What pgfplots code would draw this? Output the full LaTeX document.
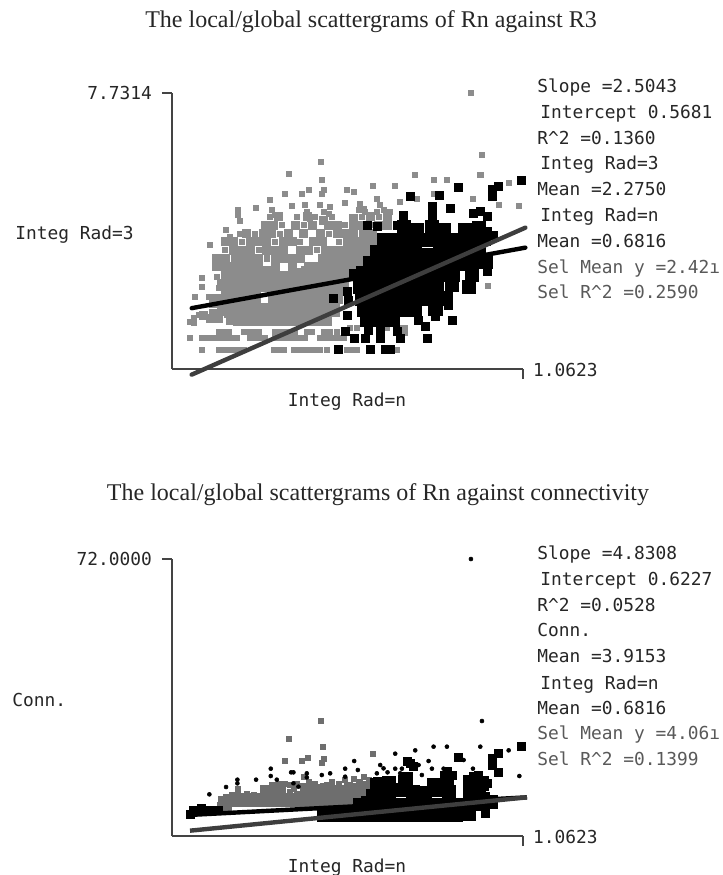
\documentclass[border=0pt]{standalone}
\usepackage{fontspec}
\setmainfont{Liberation Serif}
\newfontfamily\scr{DejaVu Sans Mono}
\usepackage{pgfplots}
\pgfplotsset{compat=1.18}
\definecolor{graya}{HTML}{8C8C8C}
\definecolor{grayb}{HTML}{6E6E6E}
\definecolor{lineg}{HTML}{3E3E3E}
\definecolor{axisg}{HTML}{444444}
\newcommand{\st}{\scr\fontsize{13.4}{14}\selectfont}
\pgfplotsset{panel/.style={
  scale only axis, width=263.25pt, clip=false, y dir=reverse,
  xmin=66, xmax=1118,
  axis x line=bottom, axis y line=left,
  axis line style={-,color=axisg,line width=1.1pt},
  xtick={1118}, tick align=outside,
  x tick style={color=axisg,line width=1.1pt},
  y tick style={color=axisg,line width=1.1pt},
  major tick length=7.5pt,
  tick label style={font=\st,/pgf/number format/assume math mode=true},
  x tick label style={anchor=west,xshift=4pt,yshift=7pt,text=black!85},
  y tick label style={anchor=east,xshift=-4pt,text=black!85},
  small/.style={only marks,mark=square*,mark size=1.9pt,mark options={draw=none}},
  mid/.style={only marks,mark=square*,mark size=3pt,mark options={draw=none}},
  big/.style={only marks,mark=square*,mark size=5pt,mark options={draw=none}},
  dot/.style={only marks,mark=*,mark size=1.5pt,mark options={draw=none}},
}}
\begin{document}
\begin{tikzpicture}
\path[use as bounding box] (0,0) rectangle (542.25pt,-656.25pt);
\begin{axis}[panel, at={(129pt,-276.75pt)}, anchor=south west, height=207pt,
  ymin=68, ymax=898, ytick={68}, yticklabels={7.7314}, xticklabels={1.0623}]
% unselected, dense interior
\addplot[big,color=graya] coordinates {
(330,610)(366,610)(402,625)(438,615)(474,610)(510,610)(546,610)(582,600)(620,580)(640,550)
(250,645)(286,645)(322,645)(358,645)(394,645)(430,650)(466,645)(502,645)(538,645)(574,640)
(240,680)(276,685)(312,680)(375,680)(411,680)(447,680)(483,680)(519,680)(555,680)
(260,720)(296,720)(332,720)(368,720)(404,720)(440,720)(476,720)(512,720)(548,720)
(270,745)(306,745)(342,745)(378,745)(414,745)(450,745)(486,745)(522,745)
};
\addplot[mid,color=graya] coordinates {
(385,440)(470,440)(520,450)(610,445)(660,440)(710,440)
(345,465)(370,465)(435,465)(485,465)(535,465)(560,465)(610,465)(635,465)(685,465)(710,465)
(290,490)(340,490)(365,490)(415,490)(460,490)(510,490)(560,490)(585,490)(610,490)(640,490)(665,490)
(225,515)(250,515)(300,515)(325,515)(350,515)(400,515)(425,515)(490,515)(515,515)(590,515)(615,515)(640,515)(665,515)
(250,540)(275,540)(300,540)(350,540)(375,540)(400,540)(450,540)(475,540)(525,540)(550,540)(575,540)(600,540)(625,540)(650,540)
(200,565)(225,565)(275,565)(300,565)(325,565)(375,565)(400,565)(425,565)(450,565)(515,565)(540,565)(565,565)(590,565)(615,565)(640,565)
(200,590)(225,590)(250,590)(275,590)(300,590)(325,590)(375,590)(425,590)(475,590)(500,590)(525,590)(550,590)(575,590)(600,590)
(225,615)(250,615)(275,615)(300,615)(215,640)(225,665)(215,700)(240,705)
(190,700)(190,730)(215,725)(235,730)(160,735)(180,745)(205,745)(240,750)
};
% unselected, speckled points
\addplot[small,color=graya] coordinates {
(962,66)(995,254)(990,315)(795,315)(850,330)(890,330)(1075,337)(1105,408)(1045,403)(968,385)(1013,647)
(513,275)(515,330)(417,310)(405,370)(455,370)(475,358)(520,358)(515,372)(590,358)(612,365)(668,347)(735,347)
(358,388)(318,412)(262,420)(262,435)(270,452)(228,480)(178,523)(155,625)(155,650)(135,680)
(585,398)(630,400)(640,415)(680,385)(690,405)(700,420)(750,395)(800,385)(850,370)
(425,408)(465,405)(510,405)(540,410)(365,420)(375,435)(470,425)(480,445)(535,430)(520,425)
(625,420)(645,425)(680,425)(720,425)(270,490)(240,500)(360,440)(440,440)(495,440)(545,440)(635,440)(685,440)
(395,465)(460,465)(585,465)(660,465)(315,490)(390,490)(535,490)(275,515)(375,515)(450,515)(565,515)(225,540)(325,540)(500,540)(250,565)(350,565)
(200,620)(205,655)(175,680)(190,680)(210,680)
(120,755)(130,745)(145,735)(130,760)
(205,785)(220,785)(235,785)(280,785)(295,785)(310,785)(325,785)(375,785)(390,785)(405,785)(420,785)(435,785)(470,785)(485,785)(520,785)(540,785)(560,785)(600,775)(620,775)(650,775)(710,775)(745,775)(765,775)(765,790)
(118,805)(155,805)(170,805)(185,805)(200,805)(215,805)(230,805)(245,805)(260,805)(300,805)(315,805)(330,805)(345,805)(375,805)(390,805)(405,805)(420,805)(435,805)(450,805)(465,805)(510,805)(525,805)(540,805)(555,805)(570,805)(580,805)
(155,840)(205,840)(220,840)(235,840)(250,840)(265,840)(280,840)(370,840)(385,840)(400,840)(430,840)(445,840)(460,840)(480,840)(495,840)(510,840)(530,840)(590,840)(605,840)(620,840)(740,840)
};
% selected, dense interior
\addplot[big,color=black] coordinates {
(760,470)(800,480)(845,470)(880,480)(945,480)(985,475)
(700,510)(738,510)(776,510)(814,510)(852,510)(890,510)(928,510)(966,510)(1000,505)
(680,545)(718,545)(756,545)(794,545)(832,555)(870,545)(908,545)(946,540)(984,550)
(660,580)(698,580)(736,580)(774,580)(812,580)(850,580)(888,580)(926,580)(964,580)(1005,575)
(640,615)(678,615)(716,615)(754,615)(792,615)(830,615)(868,615)(906,615)(965,615)
(630,650)(668,650)(706,650)(744,650)(782,650)(820,650)(858,650)(905,645)(955,650)
(635,685)(673,685)(711,685)(749,685)(787,685)(825,685)(870,685)
(640,720)(678,720)(716,720)(754,720)(792,720)(855,715)
(650,750)(688,750)(726,750)
};
% selected, outer points
\addplot[mid,color=black] coordinates {
(1113,330)(925,350)(1045,347)(1025,358)(1025,380)(780,378)(868,375)
(845,410)(845,432)(900,415)(970,430)(990,425)(1012,440)(845,455)(760,435)(650,467)(680,470)(740,465)
(1010,485)(1030,495)(1005,575)(1010,605)(1015,570)
(550,685)(590,665)(610,610)(630,600)(590,735)(595,690)
(612,805)(645,805)(690,805)(740,785)(750,805)(830,805)(585,785)(565,840)(660,840)(705,840)(720,840)
(690,785)(655,780)(805,750)(825,770)(905,750)(855,740)(895,705)(895,680)
};
\end{axis}
\begin{axis}[panel, hide axis, at={(129pt,-276.75pt)}, anchor=south west, height=207pt, ymin=68, ymax=898]
\addplot[black,line width=3.3pt,line cap=round] coordinates {(125,715)(1125,533)};
\addplot[lineg,line width=3.3pt,line cap=round] coordinates {(125,915)(1125,473)};
\end{axis}

\begin{axis}[panel, at={(129pt,-627pt)}, anchor=south west, height=207.75pt,
  ymin=57, ymax=888, ytick={57}, yticklabels={72.0000}, xticklabels={1.0623}]
\addplot[big,color=grayb] coordinates {
(225,790)(261,780)(297,780)(333,780)(369,780)(405,780)(441,780)(477,780)(513,780)(549,780)(585,780)(621,775)
(350,755)(386,755)(470,750)(490,760)(530,750)(566,755)(602,750)(640,745)
};
\addplot[small,color=grayb] coordinates {
(513,543)(417,597)(517,620)(668,640)(405,663)(455,663)(473,652)(520,655)(515,668)
(210,795)(228,770)(245,765)(262,755)(262,745)(405,730)(420,735)(375,735)(390,730)(350,745)(365,735)
(440,730)(460,710)(475,725)(495,730)(545,725)(565,730)(585,720)(610,715)(640,710)(655,720)(445,790)
(530,735)(600,735)(625,730)(430,745)(500,740)(630,725)(420,755)(440,760)(290,760)(310,765)
};
\addplot[big,color=black] coordinates {
(520,825)(556,825)(592,825)(628,825)(664,825)(700,825)(736,825)(772,825)(808,825)(844,825)(880,825)(916,825)(955,820)
(630,795)(666,795)(702,795)(738,795)(774,795)(810,795)(846,795)(882,795)(918,795)(954,795)(990,790)(1020,785)
(680,760)(716,755)(752,750)(788,755)(824,760)(860,750)(896,755)(960,755)(985,745)
(680,735)(716,730)(765,725)(850,735)(890,715)(960,725)(995,730)
};
\addplot[mid,color=black] coordinates {
(1113,620)(1045,640)(1025,655)(1025,675)(1045,697)(925,652)(780,670)(770,665)(790,680)
(1005,820)(1005,770)(1010,730)(970,710)(890,695)(905,705)
(680,725)(710,735)(660,760)(645,780)(760,710)(775,708)(985,705)(130,812)(155,805)(178,812)(120,822)(205,810)
};
\addplot[dot,color=black] coordinates {
(962,57)(995,543)(850,620)(890,620)(795,631)(735,641)(990,620)(1075,631)(612,663)(835,663)(362,686)(585,686)
(423,697)(430,697)(623,690)(540,700)(515,705)(470,700)(362,708)(318,719)(262,719)(262,730)(228,741)(178,763)
(155,800)(690,675)(700,685)(712,697)(735,686)(755,686)(805,675)(845,686)(815,705)(1107,708)
(968,686)(880,686)(940,660)(585,710)(470,712)(380,719)(430,730)(445,740)(680,700)(750,700)
};
\end{axis}
\begin{axis}[panel, hide axis, at={(129pt,-627pt)}, anchor=south west, height=207.75pt, ymin=57, ymax=888]
\addplot[black,line width=3.3pt,line cap=butt] coordinates {(115,825)(1130,772)};
\addplot[lineg,line width=3.3pt,line cap=butt] coordinates {(120,872)(1130,772)};
\end{axis}

\begin{scope}[x=0.75pt,y=-0.75pt]
\node[font=\fontsize{18}{20}\selectfont,text=black!85,anchor=base] at (371,27) {The local/global scattergrams of Rn against R3};
\node[font=\fontsize{18}{20}\selectfont,text=black!85,anchor=base] at (378,500) {The local/global scattergrams of Rn against connectivity};
\node[font=\st,anchor=base west,inner xsep=0pt,text=black!85] at (15,239) {Integ Rad=3};
\node[font=\st,anchor=base west,inner xsep=0pt,text=black!85] at (12,706) {Conn.};
\node[font=\st,anchor=base,text=black!85] at (347,406) {Integ Rad=n};
\node[font=\st,anchor=base,text=black!85] at (347,872) {Integ Rad=n};
\foreach \x/\y/\t/\c in {
 537/92/Slope =2.5043/85, 540/118/Intercept 0.5681/85, 537/144/R\^{}2 =0.1360/85,
 540/169/Integ Rad=3/85, 537/195/Mean =2.2750/85, 540/221/Integ Rad=n/85,
 537/247/Mean =0.6816/85, 537/273/Sel Mean y =2.42ı/65, 537/298/Sel R\^{}2 =0.2590/65,
 537/559/Slope =4.8308/85, 540/585/Intercept 0.6227/85, 537/611/R\^{}2 =0.0528/85,
 537/636/Conn./85, 537/662/Mean =3.9153/85, 540/689/Integ Rad=n/85,
 537/714/Mean =0.6816/85, 537/739/Sel Mean y =4.06ı/65, 537/765/Sel R\^{}2 =0.1399/65}
 {\node[font=\st,anchor=base west,inner xsep=0pt,text=black!\c] at (\x,\y) {\t};}
\end{scope}
\end{tikzpicture}
\end{document}
